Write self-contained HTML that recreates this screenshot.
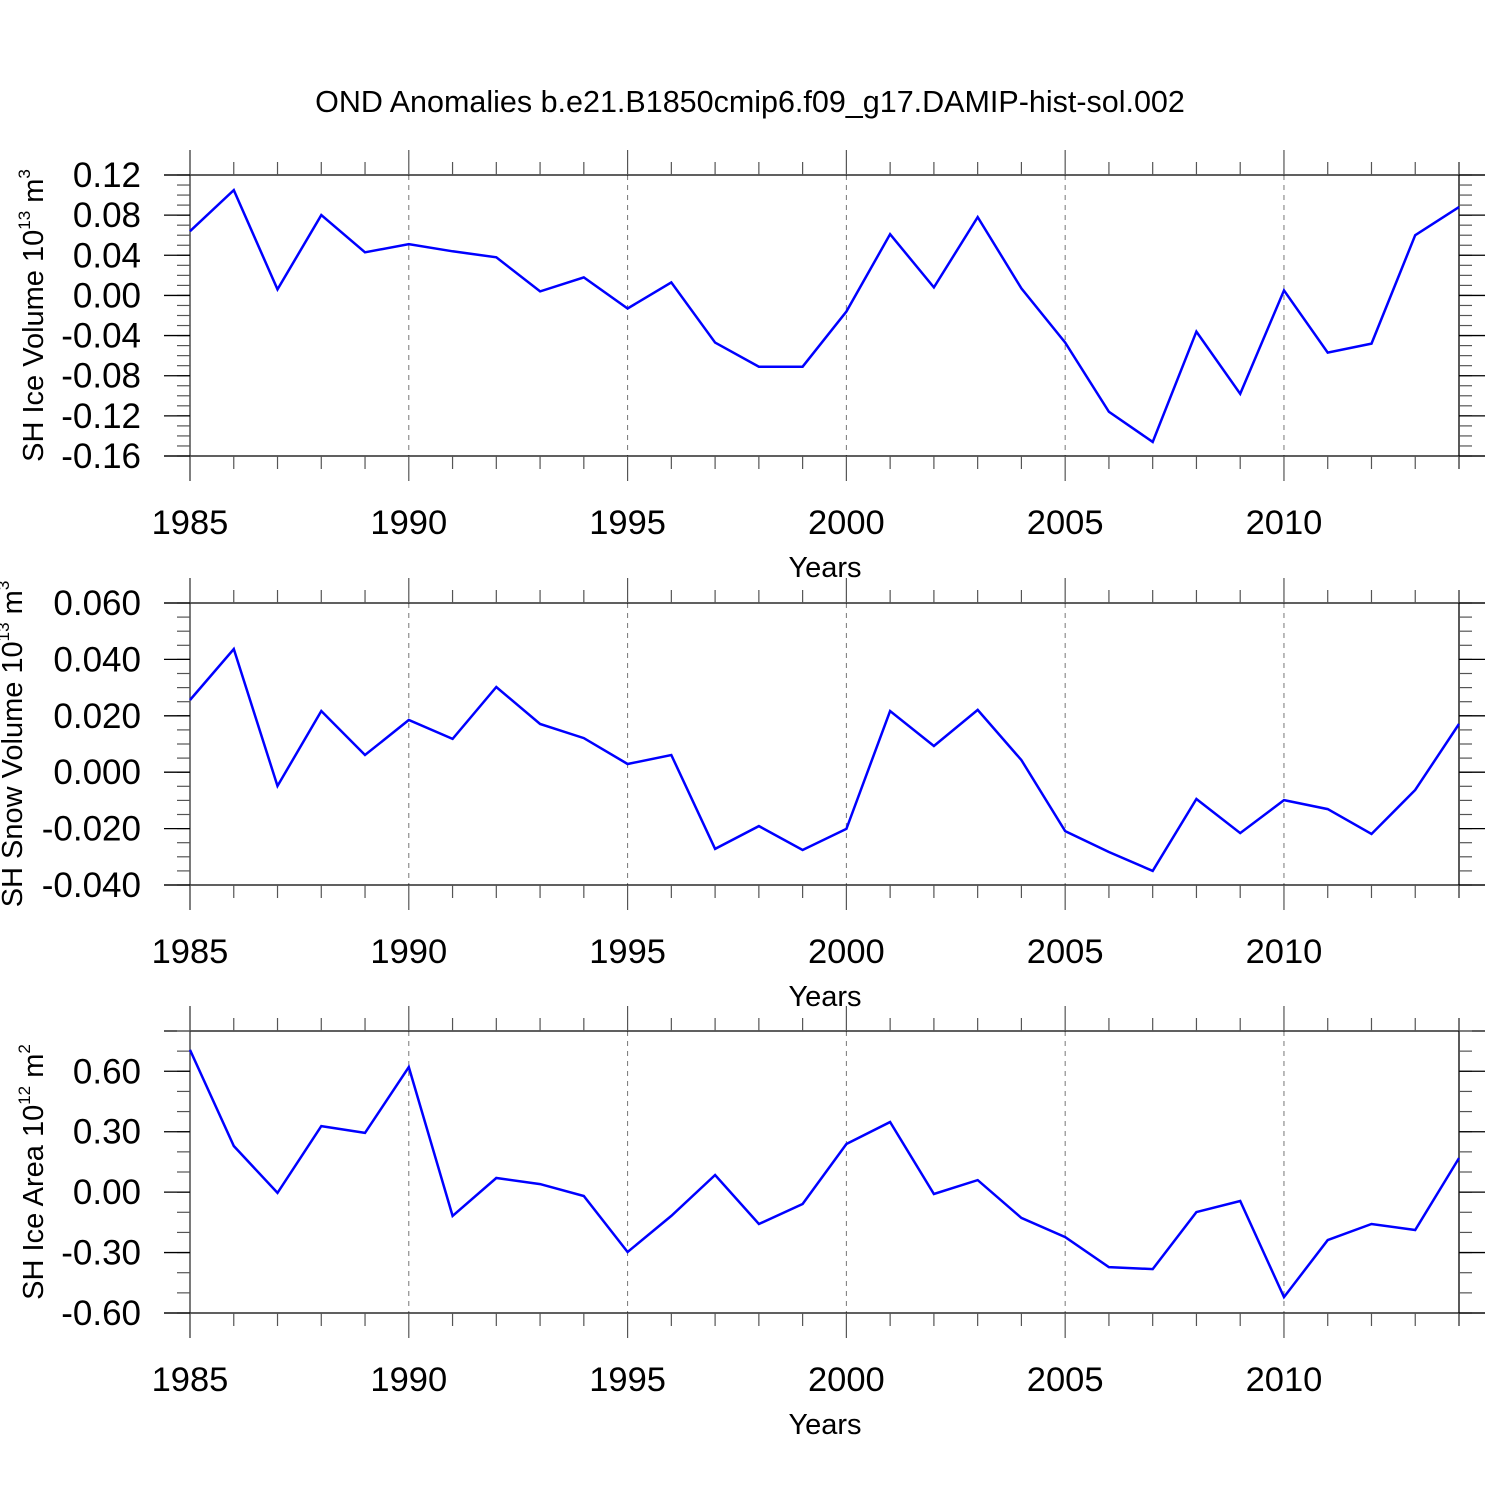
<!DOCTYPE html>
<html><head><meta charset="utf-8"><style>
html,body{margin:0;padding:0;background:#fff}
svg{display:block;font-family:"Liberation Sans",Arial,sans-serif}
</style></head><body>
<svg id="chart" width="1500" height="1500" viewBox="0 0 1500 1500" xmlns="http://www.w3.org/2000/svg">
<text x="750" y="112" font-size="30.5" text-anchor="middle">OND Anomalies b.e21.B1850cmip6.f09_g17.DAMIP-hist-sol.002</text>
</svg>
<script>
const years = [1985,1986,1987,1988,1989,1990,1991,1992,1993,1994,1995,1996,1997,1998,1999,2000,2001,2002,2003,2004,2005,2006,2007,2008,2009,2010,2011,2012,2013,2014];
const iceVolume = [0.064,0.105,0.006,0.080,0.043,0.051,0.044,0.038,0.004,0.018,-0.013,0.013,-0.047,-0.071,-0.071,-0.016,0.061,0.008,0.078,0.007,-0.047,-0.116,-0.146,-0.036,-0.098,0.005,-0.057,-0.048,0.060,0.088];
const snowVolume = [0.0256,0.0437,-0.0049,0.0217,0.0061,0.0185,0.0118,0.0302,0.0171,0.0121,0.0029,0.0061,-0.0272,-0.0191,-0.0276,-0.0201,0.0217,0.0093,0.0221,0.0043,-0.0209,-0.0283,-0.0350,-0.0095,-0.0216,-0.0099,-0.0131,-0.0219,-0.0063,0.0171];
const iceArea = [0.706,0.229,-0.004,0.328,0.294,0.621,-0.118,0.070,0.040,-0.019,-0.297,-0.118,0.085,-0.158,-0.059,0.239,0.348,-0.009,0.060,-0.128,-0.223,-0.372,-0.382,-0.099,-0.044,-0.521,-0.238,-0.158,-0.188,0.169];
const xTickLabels = ["1985","1990","1995","2000","2005","2010"];
const iceVolTicks = [0.12,0.08,0.04,0.00,-0.04,-0.08,-0.12,-0.16];
const snowTicks = [0.06,0.04,0.02,0.0,-0.02,-0.04];
const areaTicks = [0.6,0.3,0.0,-0.3,-0.6];

const NS="http://www.w3.org/2000/svg";
const svg=document.getElementById('chart');
function mk(tag,attrs,parent){const e=document.createElementNS(NS,tag);for(const k in attrs)e.setAttribute(k,attrs[k]);(parent||svg).appendChild(e);return e;}
const X0=190,X1=1459;
const xScale=y=>X0+(y-1985)/(2014-1985)*(X1-X0);

function panel(o){
  const g=mk('g',{});
  
  
  const ys=v=>o.top+(o.ymax-v)/(o.ymax-o.ymin)*(o.bot-o.top);
  for(const y of [1990,1995,2000,2005,2010]){
    const l=mk('line',{x1:xScale(y),x2:xScale(y),y1:o.top,y2:o.bot,stroke:'#777','stroke-width':1,'stroke-dasharray':'5,5'},g);
    
    
  }
  mk('line',{x1:X0-26,x2:X1+26,y1:o.top,y2:o.top,stroke:'#000','stroke-width':1.3},g);
  mk('line',{x1:X0-26,x2:X1+26,y1:o.bot,y2:o.bot,stroke:'#000','stroke-width':1.3},g);
  mk('line',{x1:X0,x2:X0,y1:o.top-25,y2:o.bot+25,stroke:'#333','stroke-width':1.3},g);
  mk('line',{x1:X1,x2:X1,y1:o.top-13,y2:o.bot+13,stroke:'#000','stroke-width':1.3},g);
  for(const y of years){
    const maj=(y%5===0);const len=maj?25:13;
    mk('line',{x1:xScale(y),x2:xScale(y),y1:o.top-len,y2:o.top,stroke:'#555','stroke-width':1.2},g);
    mk('line',{x1:xScale(y),x2:xScale(y),y1:o.bot,y2:o.bot+len,stroke:'#555','stroke-width':1.2},g);
  }
  xTickLabels.forEach(t=>{
    const tx=mk('text',{x:xScale(+t),y:o.bot+78,'font-size':34.5,'text-anchor':'middle'},g);
    tx.textContent=t;
    
    
  });
  const xt=mk('text',{x:825,y:o.bot+121,'font-size':29,'text-anchor':'middle'},g);
  xt.textContent='Years';
  
  
  const n=Math.round((o.ymax-o.ymin)/o.minor);
  for(let i=0;i<=n;i++){
    const v=o.ymin+i*o.minor;const py=ys(v);
    mk('line',{x1:X0-13,x2:X0,y1:py,y2:py,stroke:'#555','stroke-width':1.2},g);
    mk('line',{x1:X1,x2:X1+13,y1:py,y2:py,stroke:'#555','stroke-width':1.2},g);
  }
  o.ticks.forEach(v=>{
    const py=ys(v);
    mk('line',{x1:X0-26,x2:X0,y1:py,y2:py,stroke:'#000','stroke-width':1.3},g);
    mk('line',{x1:X1,x2:X1+26,y1:py,y2:py,stroke:'#000','stroke-width':1.3},g);
    const tx=mk('text',{x:X0-49,y:py+12,'font-size':35,'text-anchor':'end'},g);
    tx.textContent=v.toFixed(o.dec);
    
    
  });
  const yt=mk('text',{transform:`translate(${o.tx},${(o.top+o.bot)/2}) rotate(-90)`,'font-size':29,'text-anchor':'middle'},g);
  yt.innerHTML=o.title+'<tspan font-size="17" dy="-13">'+o.exp+'</tspan><tspan dy="13"> m</tspan><tspan font-size="17" dy="-13">'+o.unitExp+'</tspan>';
  
  
  const pts=years.map((y,i)=>xScale(y).toFixed(1)+','+ys(o.data[i]).toFixed(1)).join(' ');
  const pl=mk('polyline',{points:pts,fill:'none',stroke:'#0000ff','stroke-width':2.5,'stroke-linejoin':'miter'},g);
  
  
}
panel({name:'ice-volume-panel',top:175,bot:456,ymin:-0.16,ymax:0.12,minor:0.01,ticks:iceVolTicks,dec:2,data:iceVolume,title:'SH Ice Volume 10',exp:'13',unitExp:'3',tx:43});
panel({name:'snow-volume-panel',top:603,bot:885,ymin:-0.04,ymax:0.06,minor:0.005,ticks:snowTicks,dec:3,data:snowVolume,title:'SH Snow Volume 10',exp:'13',unitExp:'3',tx:22});
panel({name:'ice-area-panel',top:1031,bot:1313,ymin:-0.6,ymax:0.8,minor:0.1,ticks:areaTicks,dec:2,data:iceArea,title:'SH Ice Area 10',exp:'12',unitExp:'2',tx:43});
</script>
</body></html>
